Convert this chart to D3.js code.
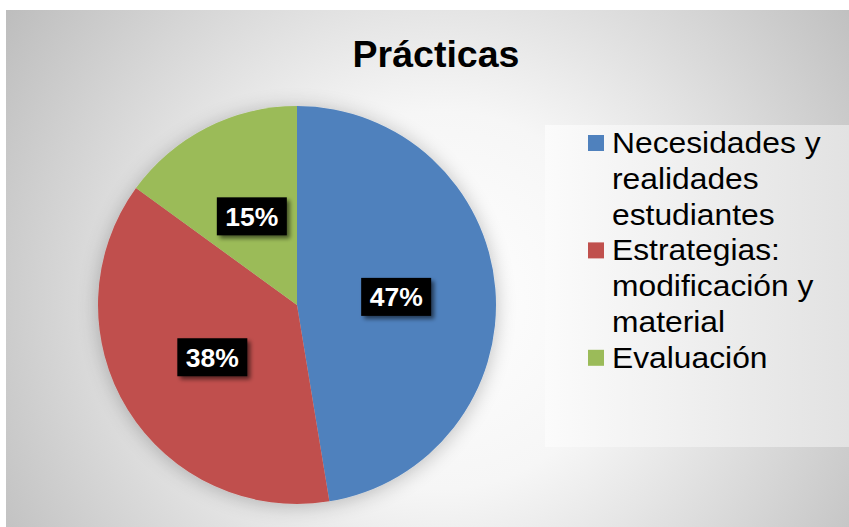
<!DOCTYPE html>
<html>
<head>
<meta charset="utf-8">
<script src="https://cdn.jsdelivr.net/npm/d3@7"></script>
<style>
  html, body { margin: 0; padding: 0; background: #ffffff; }
  svg { display: block; }
</style>
</head>
<body>
<svg id="chart" width="849" height="527"></svg>
<script>
// ---- data ----
const title = "Prácticas";
const categories = ["Necesidades y realidades estudiantes", "Estrategias: modificación y material", "Evaluación"];
const legendLines = [["Necesidades y", "realidades", "estudiantes"], ["Estrategias:", "modificación y", "material"], ["Evaluación"]];
const values = [47.4, 37.6, 15];
const colors = ["#4f81bd", "#c0504d", "#9bbb59"];

const W = 849, H = 527;
const svg = d3.select("#chart");
const defs = svg.append("defs");

// background gradient
const bg = defs.append("radialGradient").attr("id", "bgGrad")
  .attr("gradientUnits", "userSpaceOnUse")
  .attr("cx", 440).attr("cy", 300).attr("r", 540);
bg.append("stop").attr("offset", "0%").attr("stop-color", "#ffffff");
bg.append("stop").attr("offset", "35%").attr("stop-color", "#f6f6f6");
bg.append("stop").attr("offset", "100%").attr("stop-color", "#bababa");

const lg = defs.append("linearGradient").attr("id", "legGrad")
  .attr("x1", "0%").attr("x2", "100%").attr("y1", "0%").attr("y2", "0%");
lg.append("stop").attr("offset", "0%").attr("stop-color", "#fbfbfb");
lg.append("stop").attr("offset", "100%").attr("stop-color", "#e2e2e2");

const pieShadow = defs.append("filter").attr("id", "pieShadow")
  .attr("x", "-30%").attr("y", "-30%").attr("width", "160%").attr("height", "160%");
pieShadow.append("feGaussianBlur").attr("in", "SourceAlpha").attr("stdDeviation", 10).attr("result", "b");
pieShadow.append("feOffset").attr("in", "b").attr("dx", 0).attr("dy", 2).attr("result", "o");
pieShadow.append("feComponentTransfer").attr("in", "o").attr("result", "s")
  .append("feFuncA").attr("type", "linear").attr("slope", 0.25);
const pm = pieShadow.append("feMerge");
pm.append("feMergeNode").attr("in", "s");
pm.append("feMergeNode").attr("in", "SourceGraphic");

const lblShadow = defs.append("filter").attr("id", "lblShadow")
  .attr("x", "-20%").attr("y", "-30%").attr("width", "150%").attr("height", "180%");
lblShadow.append("feGaussianBlur").attr("in", "SourceAlpha").attr("stdDeviation", 2).attr("result", "b");
lblShadow.append("feOffset").attr("in", "b").attr("dx", 3).attr("dy", 3).attr("result", "o");
lblShadow.append("feComponentTransfer").attr("in", "o").attr("result", "s")
  .append("feFuncA").attr("type", "linear").attr("slope", 0.55);
const lm = lblShadow.append("feMerge");
lm.append("feMergeNode").attr("in", "s");
lm.append("feMergeNode").attr("in", "SourceGraphic");

// chart area
svg.append("rect").attr("x", 6).attr("y", 10).attr("width", W - 6).attr("height", H - 10)
  .attr("fill", "url(#bgGrad)");

// title
svg.append("text").attr("x", 436).attr("y", 67)
  .attr("text-anchor", "middle")
  .attr("font-family", "Liberation Sans, Arial, sans-serif")
  .attr("font-weight", "bold").attr("font-size", 37.5)
  .attr("fill", "#000").text(title);

// pie
const cx = 297, cy = 305, r = 199;
const pie = d3.pie().sort(null).value(d => d)(values);
const arc = d3.arc().innerRadius(0).outerRadius(r);
const g = svg.append("g").attr("transform", `translate(${cx},${cy})`);
g.append("g").attr("filter", "url(#pieShadow)")
  .selectAll("path").data(pie).join("path")
  .attr("d", arc).attr("fill", (d, i) => colors[i]);

// labels
const fmt = v => d3.format(".0f")(v) + "%";
const lab = g.selectAll("g.lab").data(pie).join("g").attr("class", "lab")
  .attr("transform", d => `translate(${arc.centroid(d)})`);
lab.append("rect").attr("x", -35).attr("y", -19).attr("width", 70).attr("height", 38)
  .attr("fill", "#000").attr("filter", "url(#lblShadow)");
lab.append("text").attr("text-anchor", "middle").attr("y", 9.5)
  .attr("font-family", "Liberation Sans, Arial, sans-serif")
  .attr("font-weight", "bold").attr("font-size", 26.5)
  .attr("fill", "#fff").text(d => fmt(d.data));

// legend
svg.append("rect").attr("x", 545).attr("y", 125).attr("width", W - 545).attr("height", 322)
  .attr("fill", "url(#legGrad)");
const lineH = 35.8;
let line = 0;
const leg = svg.append("g");
categories.forEach((c, i) => {
  const y0 = 153 + line * lineH;
  leg.append("rect").attr("x", 588).attr("y", y0 - 18).attr("width", 16).attr("height", 16)
    .attr("fill", colors[i]);
  const t = leg.append("text")
    .attr("transform", `translate(612,${y0}) scale(1.06,1)`)
    .attr("font-family", "Liberation Sans, Arial, sans-serif")
    .attr("font-size", 30).attr("fill", "#000");
  legendLines[i].forEach((l, j) => {
    t.append("tspan").attr("x", 0).attr("y", j * lineH).text(l);
  });
  line += legendLines[i].length;
});
</script>
</body>
</html>
